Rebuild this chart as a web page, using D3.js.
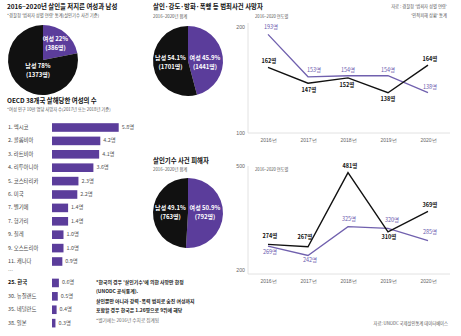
<!DOCTYPE html>
<html>
<head>
<meta charset="utf-8">
<script src="https://cdn.jsdelivr.net/npm/d3@7"></script>
<style>
  html, body { margin: 0; padding: 0; background: #fff; }
  svg { display: block; font-family: "Noto Sans CJK KR", "Noto Sans", sans-serif; }
</style>
</head>
<body>
<svg id="chart" width="461" height="336"></svg>
<script>
// ---- data ----
const pieGroups = ["여성", "남성"];

const killerCounts = [386, 1373];
const killerShares = ["22%", "78%"];

const crimeVictimCounts = [1441, 1701];
const crimeVictimShares = ["45.9%", "54.1%"];

const homicideVictimCounts = [792, 763];
const homicideVictimShares = ["50.9%", "49.1%"];

const oecdRanks = ["1", "2", "3", "4", "5", "6", "7", "7", "9", "9", "11", "25", "30", "35", "38"];
const oecdCountries = ["멕시코", "콜롬비아", "라트비아", "리투아니아", "코스타리카", "미국", "벨기에", "헝가리",
  "칠레", "오스트리아", "캐나다", "한국", "뉴질랜드", "네덜란드", "일본"];
const oecdRates = [5.8, 4.2, 4.1, 3.6, 2.3, 2.2, 1.4, 1.4, 1.0, 1.0, 0.9, 0.6, 0.5, 0.4, 0.3];

const years = ["2016년", "2017년", "2018년", "2019년", "2020년"];
const crimeDeathsPurple = [193, 153, 154, 154, 138];
const crimeDeathsBlack = [162, 147, 152, 138, 164];
const homicidePurple = [269, 242, 325, 320, 285];
const homicideBlack = [274, 267, 481, 310, 369];
const crimeTicks = [100, 200];
const homicideTicks = [200, 500];

// ---- styling ----
const PURPLE = "#5b3d9b";
const LINE_PURPLE = "#7060ae";
const BLACK = "#111";
const GREY = "#666";

const svg = d3.select("#chart");

function text(x, y, str, opt = {}) {
  return svg.append("text")
    .attr("x", x).attr("y", y)
    .attr("dominant-baseline", "middle")
    .attr("text-anchor", opt.anchor || "start")
    .attr("font-size", opt.size || 5)
    .attr("font-weight", opt.weight || 400)
    .attr("fill", opt.fill || "#222")
    .text(str);
}

// ---- pies ----
function drawPie(cx, cy, r, counts, shares, labelPos) {
  const pie = d3.pie().sort(null).value(d => d);
  const arc = d3.arc().innerRadius(0).outerRadius(r);
  const g = svg.append("g").attr("transform", `translate(${cx},${cy})`);
  g.selectAll("path").data(pie(counts)).join("path")
    .attr("d", arc)
    .attr("fill", (d, i) => i === 0 ? PURPLE : BLACK);
  counts.forEach((c, i) => {
    const [lx, ly] = labelPos[i];
    text(cx + lx, cy + ly, `${pieGroups[i]} ${shares[i]}`, { anchor: "middle", size: 6, weight: 700, fill: "#fff" });
    text(cx + lx, cy + ly + 9.5, `(${d3.format("d")(c)}명)`, { anchor: "middle", size: 6, weight: 700, fill: "#fff" });
  });
}

// section 1: offenders
text(7, 7, "2016~2020년 살인을 저지른 여성과 남성", { size: 6.4, weight: 700, fill: "#111" });
text(7, 16, "*경찰청 '범죄자 성별 연령' 통계(살인기수 사건 기준)", { size: 4.3, fill: "#555" });
drawPie(43, 60, 35, killerCounts, killerShares, [[12.5, -21], [-5, 6]]);

// section 3: crime victims pie
text(153, 7, "살인·강도·방화·폭행 등 범죄사건 사망자", { size: 6.4, weight: 700, fill: "#111" });
text(153, 17, "2016~2020년 합계", { size: 4.3, fill: "#555" });
drawPie(188, 61, 35, crimeVictimCounts, crimeVictimShares, [[17, -3], [-17.5, -3]]);

// section 4: homicide victims pie
text(153, 161, "살인기수 사건 피해자", { size: 6.4, weight: 700, fill: "#111" });
text(153, 170, "2016~2020년 합계", { size: 4.3, fill: "#555" });
drawPie(188, 213, 35, homicideVictimCounts, homicideVictimShares, [[17, -5], [-17.5, -5]]);

// ---- OECD bars ----
text(7, 101, "OECD 38개국 살해당한 여성의 수", { size: 6.4, weight: 700, fill: "#111" });
text(7, 110, "*여성 인구 10만 명당 사망자 수(2017년 또는 2018년 기준)", { size: 4.3, fill: "#555" });

// rows 1–11 sit on consecutive slots, the lower group follows after a short gap
const rowSlot = oecdRanks.map((r, i) => i < 11 ? i : i + 0.6);
const yRow = d3.scaleLinear().domain([0, 1]).range([127.5, 140.9]);
const xBar = d3.scaleLinear().domain([0, 6]).range([52, 121]);
const barH = 8.6;

const rows = svg.append("g");
oecdRates.forEach((v, i) => {
  const yc = yRow(rowSlot[i]);
  rows.append("rect")
    .attr("x", xBar(0)).attr("y", yc - barH / 2)
    .attr("width", xBar(v) - xBar(0)).attr("height", barH)
    .attr("fill", PURPLE);
  const isKorea = oecdCountries[i] === "한국";
  text(8, yc, `${oecdRanks[i]}. ${oecdCountries[i]}`,
    { size: 5.4, fill: isKorea ? "#111" : "#444", weight: isKorea ? 700 : 400 });
  text(xBar(v) + 3, yc, `${v.toFixed(1)}명`, { size: 5.4, fill: "#555" });
});
text(8, yRow(10.7), "…", { size: 5, fill: "#888" });

// note beside lower bars
const notes = [
  "*한국의 경우 '살인기수'에 의한 사망만 한정",
  "(UNODC 공식통계).",
  "살인뿐만 아니라 강력·폭력 범죄로 숨진 여성까지",
  "포함할 경우 한국은 1.26명으로 9위에 해당"
];
notes.forEach((s, i) => text(96, 282.7 + i * 9.3, s, { size: 4.9, weight: 600, fill: "#222" }));
text(96, 321, "*벨기에는 2016년 수치로 집계됨", { size: 4.7, fill: "#666" });

// ---- line charts ----
const xYear = d3.scalePoint().domain(years).range([268, 428]);

function drawLines(y, ticks, purple, black, purplePlace, blackPlace, subtitleY, axisTop, axisBottom) {
  const g = svg.append("g");
  // axis frame
  g.append("line").attr("x1", 248).attr("x2", 248).attr("y1", axisTop).attr("y2", axisBottom)
    .attr("stroke", "#e2e2e2").attr("stroke-width", 1);
  g.append("line").attr("x1", 248).attr("x2", 450).attr("y1", axisBottom).attr("y2", axisBottom)
    .attr("stroke", "#e2e2e2").attr("stroke-width", 1);

  // y tick labels
  const ya = d3.axisLeft(y).tickValues(ticks).tickSize(0).tickPadding(0);
  const yg = g.append("g").attr("transform", "translate(245,0)").call(ya);
  yg.select(".domain").remove();
  yg.selectAll("text").attr("font-size", 5.2).attr("fill", GREY).attr("font-family", null);

  // x tick labels
  const xa = d3.axisBottom(xYear).tickSize(0).tickPadding(0);
  const xg = g.append("g").attr("transform", `translate(0,${axisBottom + 5})`).call(xa);
  xg.select(".domain").remove();
  xg.selectAll("text").attr("font-size", 5).attr("fill", GREY).attr("font-family", null);

  text(255, subtitleY, "2016~2020 연도별", { size: 4.2, fill: "#555" });

  const line = d3.line().x((d, i) => xYear(years[i])).y(d => y(d));
  g.append("path").datum(purple).attr("d", line)
    .attr("fill", "none").attr("stroke", LINE_PURPLE).attr("stroke-width", 1.3).attr("stroke-linejoin", "miter");
  g.append("path").datum(black).attr("d", line)
    .attr("fill", "none").attr("stroke", BLACK).attr("stroke-width", 1.4).attr("stroke-linejoin", "miter");

  const put = (vals, place, color, weight) => vals.forEach((v, i) => {
    const [dx, dy] = place[i];
    text(xYear(years[i]) + dx, y(v) + dy, `${v}명`, { anchor: "middle", size: 5.5, weight, fill: color });
  });
  put(purple, purplePlace, "#6a5aae", 400);
  put(black, blackPlace, "#111", 700);
}

// crime deaths per year
const yCrime = d3.scaleLinear().domain([100, 200]).range([133, 27]);
drawLines(yCrime, crimeTicks, crimeDeathsPurple, crimeDeathsBlack,
  [[3, -7], [6, -6], [0, -5], [0, -5], [2, -5]],
  [[1, -6], [1, 7], [-1, 8], [0, 7], [2, -6]],
  17, 23, 133);

// homicide victims per year
const yHom = d3.scaleLinear().domain([200, 500]).range([270, 166]);
drawLines(yHom, homicideTicks, homicidePurple, homicideBlack,
  [[2, 6], [2, 5], [1, -7], [4, -8], [2, -8]],
  [[2, -8], [-3, -9], [2, -6], [1, 6], [2, -6]],
  170, 166, 274);

// ---- sources ----
text(447, 7, "자료 : 경찰청 '범죄자 성별 연령'", { anchor: "end", size: 4.3, fill: "#555" });
text(447, 16, "'인적피해 상황' 통계", { anchor: "end", size: 4.3, fill: "#555" });
text(448, 324, "자료: UNODC 국제살인통계 데이터베이스", { anchor: "end", size: 4.3, fill: "#555" });
</script>
</body>
</html>
